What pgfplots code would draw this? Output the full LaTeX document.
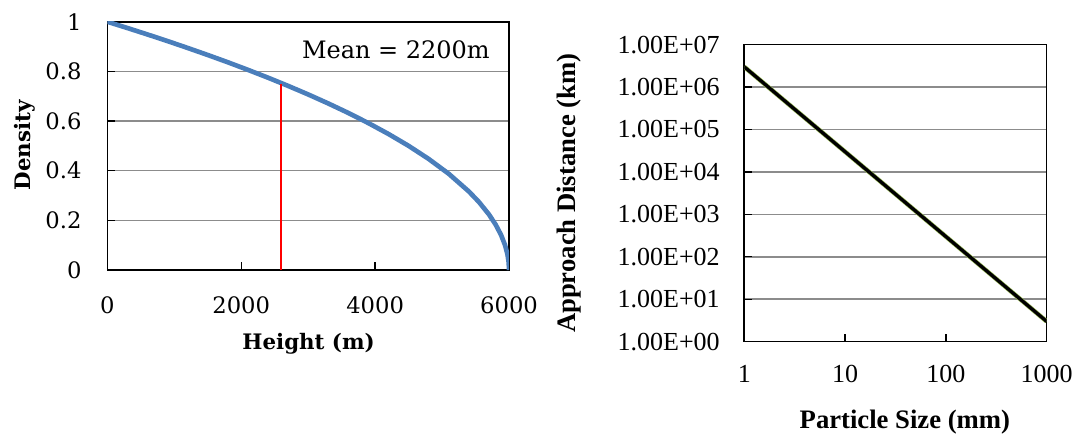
\documentclass[border=0pt]{standalone}
\usepackage{fontspec}
\usepackage{pgfplots}
\pgfplotsset{compat=1.18}
\newfontfamily\tnr{Liberation Serif}
\newfontfamily\dvs{DejaVu Serif}
\definecolor{lineblue}{RGB}{74,126,187}
\definecolor{gridgray}{RGB}{140,140,140}
\definecolor{olivegreen}{RGB}{155,187,89}
\definecolor{myred}{RGB}{255,0,0}
\begin{document}
\begin{tikzpicture}
\useasboundingbox (0,0) rectangle (808.5pt,327.75pt);
% ---------------- left chart ----------------
\begin{axis}[
  at={(80.5pt,125.25pt)}, anchor=south west, scale only axis,
  width=301.3pt, height=186.2pt,
  xmin=0, xmax=6000, ymin=0, ymax=1,
  xtick={0,2000,4000,6000}, xticklabels={0,2000,4000,6000},
  ytick={0,0.2,0.4,0.6,0.8,1}, yticklabels={0,0.2,0.4,0.6,0.8,1},
  tick align=inside, xtick pos=bottom, ytick pos=left,
  major tick length=5.7pt,
  every tick/.style={black, line width=1pt},
  axis line style={black, line width=1.2pt},
  ymajorgrids, major grid style={gridgray, line width=1.2pt},
  tick label style={font=\dvs\fontsize{17}{19}\selectfont, inner sep=0pt},
  yticklabel style={anchor=east, xshift=-19.2pt},
  xticklabel style={anchor=north, yshift=-20pt},
  xlabel={Height (m)}, ylabel={Density},
  label style={font=\dvs\bfseries\fontsize{16}{18}\selectfont},
  xlabel style={at={(axis description cs:0.501,-0.298)}, anchor=center},
  ylabel style={at={(axis description cs:-0.205,0.503)}, anchor=center},
]
\addplot[lineblue, line width=3.5pt, line join=round] coordinates {
 (0,1) (300,0.9747) (600,0.9487) (900,0.9220) (1200,0.8944) (1500,0.8660)
 (1800,0.8367) (2100,0.8062) (2400,0.7746) (2700,0.7416) (3000,0.7071)
 (3300,0.6708) (3600,0.6325) (3900,0.5916) (4200,0.5477) (4500,0.5)
 (4800,0.4472) (5100,0.3873) (5400,0.3162) (5550,0.2739) (5700,0.2236)
 (5800,0.1826) (5880,0.1414) (5940,0.1) (5976,0.0632) (5994,0.0316) (6000,0)
};
\addplot[draw=myred, line width=1.5pt] coordinates {(2600,0) (2600,0.75)};
\node[anchor=east, inner sep=0pt, font=\dvs\fontsize{18}{20}\selectfont] at (axis cs:5716,0.886) {Mean = 2200m};
\end{axis}
% ---------------- right chart ----------------
\begin{axis}[
  at={(558.2pt,71.5pt)}, anchor=south west, scale only axis,
  width=226.8pt, height=222.75pt,
  xmode=log, ymode=log,
  xmin=1, xmax=1000, ymin=1, ymax=1e7,
  xtick={1,10,100,1000}, xticklabels={1,10,100,1000},
  ytick={1,10,100,1000,10000,100000,1000000,10000000},
  yticklabels={1.00E+00,1.00E+01,1.00E+02,1.00E+03,1.00E+04,1.00E+05,1.00E+06,1.00E+07},
  xminorticks=false, yminorticks=false,
  tick align=inside, xtick pos=bottom, ytick pos=left,
  major tick length=5.7pt,
  every tick/.style={black, line width=1pt},
  axis line style={black, line width=1.2pt},
  ymajorgrids, major grid style={gridgray, line width=1.2pt},
  tick label style={font=\tnr\fontsize{19.5}{20}\selectfont, inner sep=0pt},
  yticklabel style={anchor=east, xshift=-18.2pt},
  xticklabel style={anchor=north, yshift=-17.5pt},
  xlabel={Particle Size (mm)}, ylabel={Approach Distance (km)},
  label style={font=\tnr\bfseries\fontsize{20}{22}\selectfont},
  xlabel style={at={(axis description cs:0.531,-0.27)}, anchor=center},
  ylabel style={at={(axis description cs:-0.58,0.5)}, anchor=center},
]
\addplot[olivegreen, line width=3.4pt] coordinates {(1,3e6) (1000,3)};
\addplot[black, line width=2.5pt] coordinates {(1,3e6) (1000,3)};
\end{axis}
\end{tikzpicture}
\end{document}
